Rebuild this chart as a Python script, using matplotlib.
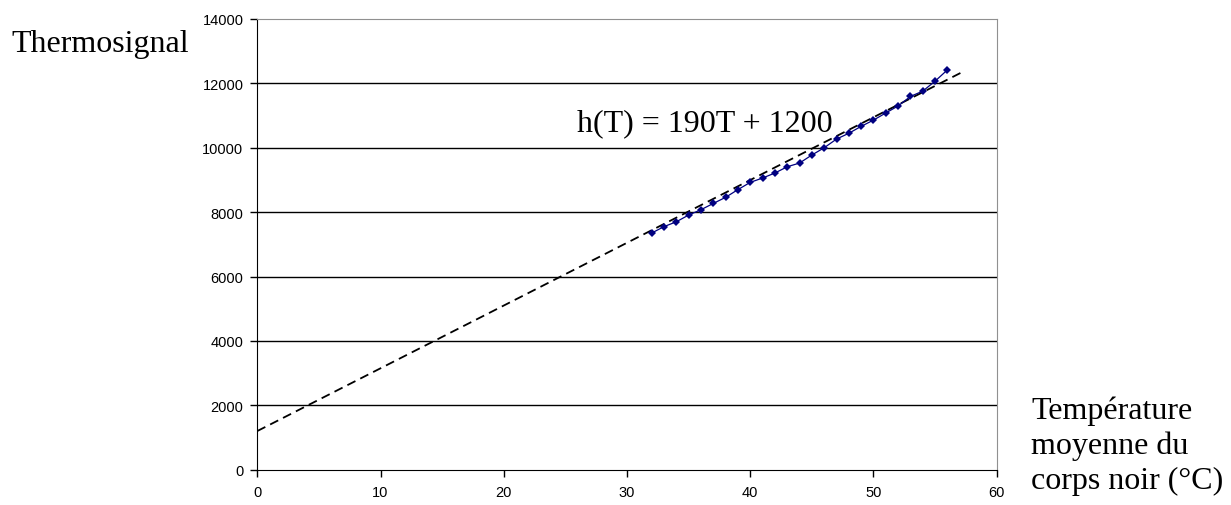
import matplotlib.pyplot as plt

# measured data (temperature in °C, thermosignal)
temps = [32, 33, 34, 35, 36, 37, 38, 39, 40, 41, 42, 43, 44,
         45, 46, 47, 48, 49, 50, 51, 52, 53, 54, 55, 56]
signal = [7350, 7550, 7700, 7910, 8075, 8270, 8460, 8700, 8925, 9060,
          9215, 9410, 9525, 9775, 10000, 10270, 10450, 10665, 10860,
          11080, 11300, 11595, 11760, 12070, 12420]

# linear trend line endpoints
trend_x = [0, 57.3]
trend_y = [1200, 12370]

xticks = [0, 10, 20, 30, 40, 50, 60]
yticks = [0, 2000, 4000, 6000, 8000, 10000, 12000, 14000]

xlabel_lines = ['Température', 'moyenne du', 'corps noir (°C)']

W, H = 1231, 506
fig = plt.figure(figsize=(W / 100, H / 100), dpi=100)
ax = fig.add_axes([0.209, 0.0698, 0.6007, 0.8907])

for y in yticks[1:-1]:
    ax.axhline(y, color='black', lw=1.0, zorder=1)

ax.plot(trend_x, trend_y, color='black', lw=1.3, ls=(0, (5, 3)), zorder=3)
ax.plot(temps, signal, color='#000080', lw=0.9, marker='D', ms=3.8,
        markeredgewidth=0, zorder=4)

ax.set_xlim(0, 60)
ax.set_ylim(0, 14000)
ax.set_xticks(xticks)
ax.set_yticks(yticks)
ax.tick_params(direction='out', length=5, width=1, labelsize=10.5, pad=5)
ax.tick_params(axis='x', pad=6)
for lab in ax.get_xticklabels() + ax.get_yticklabels():
    lab.set_family('Liberation Sans')

ax.spines['left'].set_color('black')
ax.spines['bottom'].set_color('black')
ax.spines['top'].set_color('#909090')
ax.spines['right'].set_color('#909090')

serif = 'Liberation Serif'
fs = 23
fig.text(11 / W, 1 - 52 / H, 'Thermosignal', family=serif, fontsize=fs,
         va='baseline', ha='left')
fig.text(577 / W, 1 - 131 / H, 'h(T) = 190T + 1200', family=serif,
         fontsize=fs, va='baseline', ha='left')
for i, line in enumerate(xlabel_lines):
    fig.text(1031 / W, 1 - (419 + 35 * i) / H, line, family=serif,
             fontsize=fs, va='baseline', ha='left')

fig.savefig('out.png', dpi=100)
